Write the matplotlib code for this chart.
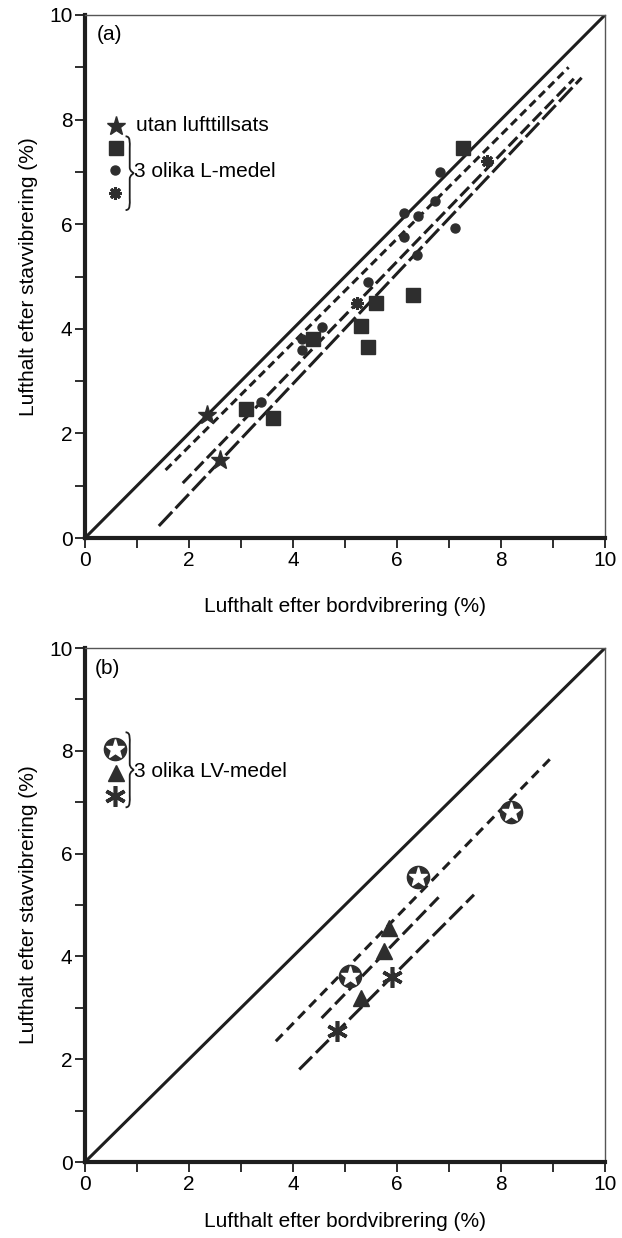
import matplotlib
matplotlib.use("Agg")
import matplotlib.pyplot as plt
from matplotlib.path import Path
from matplotlib.patches import PathPatch
from matplotlib.ticker import MultipleLocator

plt.rcParams['font.family'] = ['Liberation Sans', 'DejaVu Sans']
plt.rcParams['lines.scale_dashes'] = False

# ---------------- data: panel (a) ----------------
a_star_x = [2.35, 2.6]
a_star_y = [2.35, 1.5]
a_square_x = [3.1, 3.62, 4.38, 5.3, 5.44, 5.6, 6.3, 7.27]
a_square_y = [2.47, 2.3, 3.8, 4.05, 3.65, 4.5, 4.65, 7.45]
a_circle_x = [3.38, 4.17, 4.17, 4.55, 5.45, 6.13, 6.13, 6.4, 6.38, 6.73, 6.83, 7.12]
a_circle_y = [2.6, 3.8, 3.59, 4.03, 4.9, 6.22, 5.75, 6.15, 5.42, 6.45, 7.0, 5.92]
a_aster_x = [5.23, 7.73]
a_aster_y = [4.49, 7.2]
# regression lines (x0, y0, x1, y1)
a_line1 = [1.55, 1.3, 9.3, 9.0]
a_line2 = [1.88, 1.05, 9.4, 8.78]
a_line3 = [1.42, 0.23, 9.55, 8.8]

# ---------------- data: panel (b) ----------------
b_starc_x = [5.1, 6.4, 8.2]
b_starc_y = [3.62, 5.55, 6.8]
b_tri_x = [5.85, 5.75, 5.3]
b_tri_y = [4.55, 4.1, 3.2]
b_aster_x = [5.9, 4.85]
b_aster_y = [3.6, 2.55]
b_line_star = [3.67, 2.35, 9.0, 7.9]
b_line_tri = [4.55, 2.8, 6.8, 5.15]
b_line_ast = [4.12, 1.8, 7.48, 5.2]

ticks = [0, 2, 4, 6, 8, 10]
xlabel = "Lufthalt efter bordvibrering (%)"
ylabel = "Lufthalt efter stavvibrering (%)"

DARK = '#2e2e2e'
LINE = '#1e1e1e'
FS = 15

fig = plt.figure(figsize=(6.22, 12.38), dpi=100)
ax_a = fig.add_axes([85/622, 1 - 538/1238, 520/622, 523/1238])
ax_b = fig.add_axes([85/622, 1 - 1162/1238, 520/622, 514/1238])


def style_axes(ax, xpad):
    ax.set_xlim(0, 10)
    ax.set_ylim(0, 10)
    ax.xaxis.set_major_locator(MultipleLocator(2))
    ax.yaxis.set_major_locator(MultipleLocator(2))
    ax.xaxis.set_minor_locator(MultipleLocator(1))
    ax.yaxis.set_minor_locator(MultipleLocator(1))
    ax.tick_params(which='both', direction='out', length=7, width=1.3,
                   color=LINE, labelsize=FS, pad=2)
    ax.spines['left'].set_linewidth(3.0)
    ax.spines['bottom'].set_linewidth(3.0)
    ax.spines['top'].set_linewidth(1.0)
    ax.spines['right'].set_linewidth(1.0)
    for s in ['left', 'bottom']:
        ax.spines[s].set_color(LINE)
    for s in ['top', 'right']:
        ax.spines[s].set_color('#555555')
    ax.set_xlabel(xlabel, fontsize=FS, labelpad=xpad)
    ax.set_ylabel(ylabel, fontsize=FS, labelpad=8)
    ax.plot([0, 10], [0, 10], color=LINE, lw=2.2, solid_capstyle='butt', zorder=2)


def seg(ax, L, dashes, lw=2.2):
    ax.plot([L[0], L[2]], [L[1], L[3]], color=LINE, lw=lw, dashes=dashes,
            dash_capstyle='butt', zorder=2)


def brace(ax, x, ytop, ybot, w=0.13):
    ym = (ytop + ybot) / 2
    h = ytop - ybot
    c = h * 0.08
    verts = [(x, ytop),
             (x + w * 0.6, ytop), (x + w * 0.5, ytop - c), (x + w * 0.5, ytop - 2 * c),
             (x + w * 0.5, ym + c),
             (x + w * 0.5, ym + c * 0.3), (x + w, ym), (x + w, ym),
             (x + w, ym), (x + w * 0.5, ym - c * 0.3), (x + w * 0.5, ym - c),
             (x + w * 0.5, ybot + 2 * c),
             (x + w * 0.5, ybot + c), (x + w * 0.6, ybot), (x, ybot)]
    codes = [Path.MOVETO,
             Path.CURVE4, Path.CURVE4, Path.CURVE4,
             Path.LINETO,
             Path.CURVE4, Path.CURVE4, Path.CURVE4,
             Path.CURVE4, Path.CURVE4, Path.CURVE4,
             Path.LINETO,
             Path.CURVE4, Path.CURVE4, Path.CURVE4]
    ax.add_patch(PathPatch(Path(verts, codes), fill=False, lw=1.3,
                           edgecolor=LINE, zorder=4))


# ---------------- panel (a) ----------------
style_axes(ax_a, 20)
seg(ax_a, a_line1, (6, 3.5))
seg(ax_a, a_line2, (9, 3.5))
seg(ax_a, a_line3, (14, 3.5))
ax_a.plot(a_square_x, a_square_y, 's', ms=9.5, color=DARK, mec=DARK, zorder=3)
ax_a.plot(a_circle_x, a_circle_y, 'o', ms=6.5, color=DARK, mec=DARK, zorder=3)
ax_a.plot(a_star_x, a_star_y, '*', ms=14, color=DARK, mec=DARK, zorder=3)
ax_a.plot(a_aster_x, a_aster_y, marker=(8, 2, 0), ls='none', ms=9,
          mew=2.2, color=DARK, zorder=3)
ax_a.text(0.22, 9.62, "(a)", fontsize=FS, va='center', ha='left')
# legend
ax_a.plot([0.6], [7.87], '*', ms=14, color=DARK, clip_on=False, zorder=5)
ax_a.plot([0.6], [7.46], 's', ms=9.5, color=DARK, zorder=5)
ax_a.plot([0.58], [7.04], 'o', ms=6.5, color=DARK, zorder=5)
ax_a.plot([0.58], [6.6], marker=(8, 2, 0), ls='none', ms=9, mew=2.2, color=DARK, zorder=5)
ax_a.text(0.98, 7.88, "utan lufttillsats", fontsize=FS, va='center', ha='left')
brace(ax_a, 0.78, 7.68, 6.27, w=0.16)
ax_a.text(0.94, 7.0, "3 olika L-medel", fontsize=FS, va='center', ha='left')

# ---------------- panel (b) ----------------
style_axes(ax_b, 13)
seg(ax_b, b_line_star, (7, 4.5))
seg(ax_b, b_line_tri, (10, 4))
seg(ax_b, b_line_ast, (13, 4))
ax_b.plot(b_starc_x, b_starc_y, 'o', ms=16, color=DARK, mec=DARK, zorder=3)
ax_b.plot(b_starc_x, b_starc_y, '*', ms=14, color='white', mec='white', zorder=4)
ax_b.plot(b_tri_x, b_tri_y, '^', ms=12, color=DARK, mec=DARK, zorder=3)
ax_b.plot(b_aster_x, b_aster_y, marker=(6, 2, 0), ls='none', ms=15,
          mew=2.6, color=DARK, zorder=3)
ax_b.text(0.18, 9.6, "(b)", fontsize=FS, va='center', ha='left')
ax_b.plot([0.58], [8.04], 'o', ms=16, color=DARK, zorder=5)
ax_b.plot([0.58], [8.04], '*', ms=14, color='white', mec='white', zorder=6)
ax_b.plot([0.6], [7.56], '^', ms=11, color=DARK, zorder=5)
ax_b.plot([0.58], [7.12], marker=(6, 2, 0), ls='none', ms=15, mew=2.6, color=DARK, zorder=5)
brace(ax_b, 0.78, 8.36, 6.9, w=0.16)
ax_b.text(0.94, 7.6, "3 olika LV-medel", fontsize=FS, va='center', ha='left')

fig.savefig("out.png", dpi=100)
